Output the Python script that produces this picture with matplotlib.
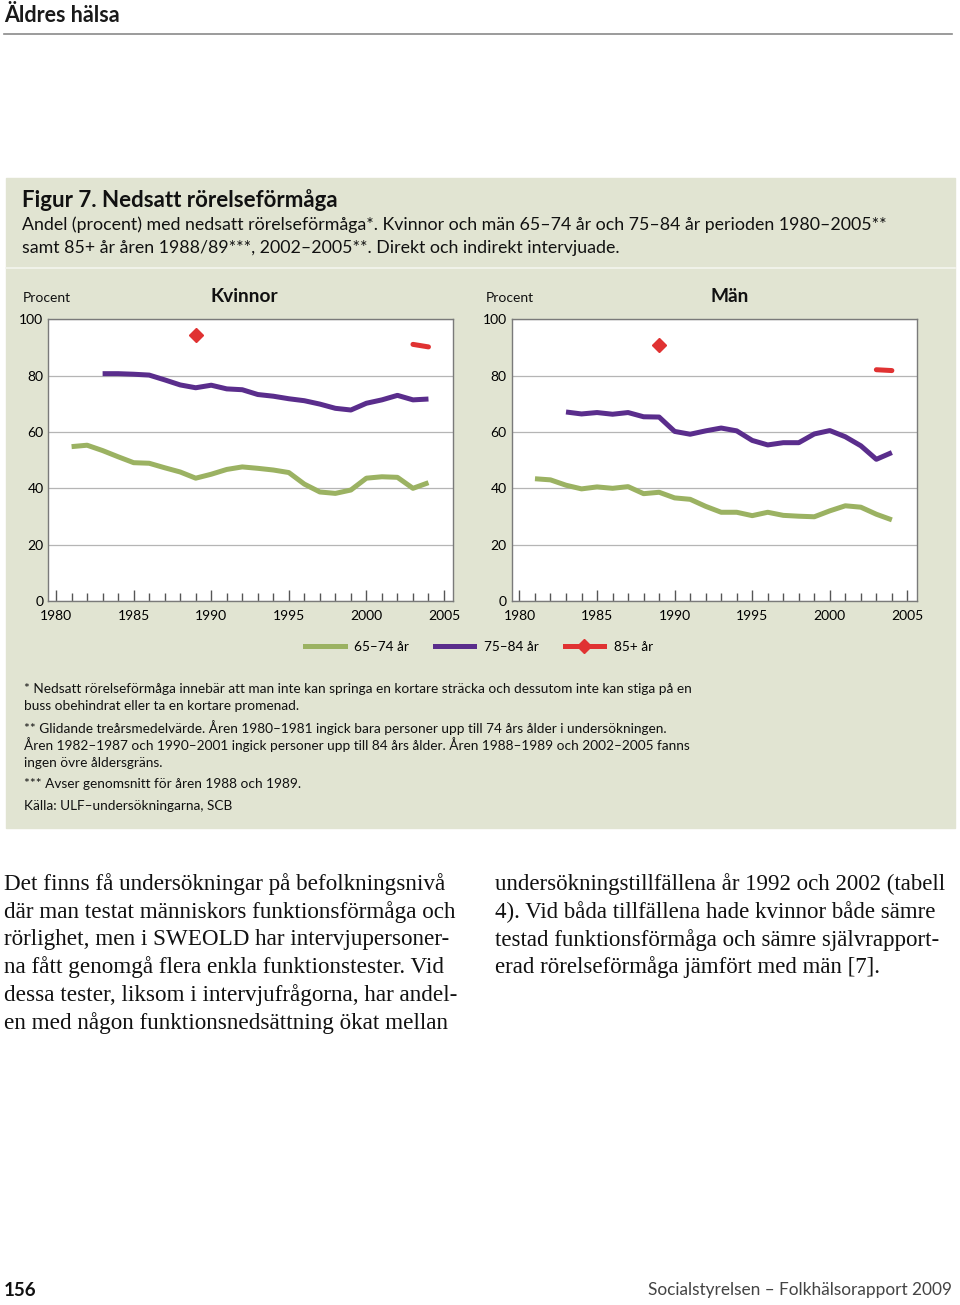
import numpy as np
import matplotlib
matplotlib.use('Agg')
from matplotlib import pyplot as plt
from matplotlib.lines import Line2D
from matplotlib.patches import Rectangle

# data (procent)
years_6574 = list(range(1981, 2005))
years_7584 = list(range(1983, 2005))
kv_6574 = [54.8, 55.3, 53.4, 51.2, 49.1, 48.9, 47.3, 45.8, 43.6, 45.0, 46.7, 47.6,
           47.1, 46.5, 45.6, 41.5, 38.7, 38.2, 39.4, 43.6, 44.1, 43.9, 40.0, 42.0]
kv_7584 = [80.7, 80.7, 80.5, 80.2, 78.5, 76.7, 75.7, 76.6, 75.3, 75.0, 73.3, 72.7,
           71.8, 71.1, 69.9, 68.4, 67.8, 70.2, 71.4, 73.0, 71.4, 71.7]
man_6574 = [43.4, 43.0, 41.1, 39.8, 40.5, 40.0, 40.6, 38.1, 38.6, 36.6, 36.1, 33.6,
            31.5, 31.5, 30.3, 31.5, 30.4, 30.1, 29.9, 32.0, 33.8, 33.3, 30.8, 28.8]
man_7584 = [67.1, 66.4, 66.9, 66.3, 66.9, 65.4, 65.3, 60.2, 59.2, 60.4, 61.4, 60.4,
            57.0, 55.4, 56.2, 56.2, 59.3, 60.5, 58.3, 55.1, 50.3, 52.7]
year_85_a = [1989]
year_85_b = [2003, 2004]
kv_85_a = [94.6]
kv_85_b = [91.1, 90.2]
man_85_a = [90.9]
man_85_b = [82.1, 81.8]

serier = ['65–74 år', '75–84 år', '85+ år']
fargor = ['#9bb262', '#5a2d8c', '#e03232']

W, H = 960, 1305
plt.rcParams['font.family'] = ['Lato', 'DejaVu Sans']
fig = plt.figure(figsize=(W / 100, H / 100), dpi=100)
fig.patch.set_facecolor('white')


def px(x, y):
    return x / W, 1 - y / H


def txt(x, y, s, **kw):
    fx, fy = px(x, y)
    kw.setdefault('va', 'center')
    fig.text(fx, fy, s, **kw)


# sidhuvud
txt(4, 15, 'Äldres hälsa', fontsize=15.5, fontweight='bold', color='#1a1a1a')
fig.add_artist(Line2D([4 / W, 952 / W], [1 - 34 / H, 1 - 34 / H], color='#8a8a8a', lw=1.2))

# figurruta
box_bg = '#e1e4d2'
fig.add_artist(Rectangle(px(6, 828), 949 / W, 650 / H, color=box_bg, zorder=0))
fig.add_artist(Line2D([6 / W, 955 / W], [1 - 268 / H, 1 - 268 / H], color='#f4f5ee', lw=1.2))

txt(22, 200, 'Figur 7. Nedsatt rörelseförmåga', fontsize=16, fontweight='bold', color='#111')
txt(22, 225, 'Andel (procent) med nedsatt rörelseförmåga*. Kvinnor och män 65–74 år och 75–84 år perioden 1980–2005**',
    fontsize=12.8, color='#111')
txt(22, 248, 'samt 85+ år åren 1988/89***, 2002–2005**. Direkt och indirekt intervjuade.',
    fontsize=12.8, color='#111')


def rita(rect, titel, tx, y6574, y7584, y85a, y85b):
    ax = fig.add_axes([rect[0] / W, 1 - rect[3] / H, (rect[2] - rect[0]) / W, (rect[3] - rect[1]) / H])
    ax.set_facecolor('white')
    ax.set_xlim(1979.5, 2005.6)
    ax.set_ylim(0, 100)
    ax.plot(years_6574, y6574, color=fargor[0], lw=3.6, solid_capstyle='butt', solid_joinstyle='round')
    ax.plot(years_7584, y7584, color=fargor[1], lw=3.6, solid_capstyle='butt', solid_joinstyle='round')
    ax.plot(year_85_a, y85a, ls='none', marker='D', ms=7.5, color=fargor[2])
    ax.plot(year_85_b, y85b, color=fargor[2], lw=3.6, solid_capstyle='round')
    ax.set_yticks([0, 20, 40, 60, 80, 100])
    ax.set_yticklabels(['0', '20', '40', '60', '80', '100'])
    ax.grid(axis='y', color='#b5b5b5', lw=0.9)
    ax.set_axisbelow(True)
    ax.tick_params(axis='y', length=0, pad=3.5, labelsize=10)
    ax.set_xticks(range(1980, 2006, 5))
    ax.set_xticks(range(1980, 2006), minor=True)
    ax.tick_params(axis='x', which='major', direction='in', length=8, width=1, color='#555',
                   pad=6.5, labelsize=10)
    ax.tick_params(axis='x', which='minor', direction='in', length=5.5, width=1, color='#555')
    for s in ax.spines.values():
        s.set_color('#7a7a7a')
        s.set_linewidth(1)
    txt(rect[0] - 26, 298, 'Procent', fontsize=10, color='#111')
    txt(tx, 296, titel, fontsize=13.8, fontweight='bold', color='#111')
    return ax


rita((48.3, 319.3, 453.3, 601), 'Kvinnor', 211, kv_6574, kv_7584, kv_85_a, kv_85_b)
rita((511.7, 319.3, 916.7, 601), 'Män', 710, man_6574, man_7584, man_85_a, man_85_b)

# teckenförklaring
handles = [Line2D([], [], color=fargor[0], lw=3.6),
           Line2D([], [], color=fargor[1], lw=3.6),
           Line2D([], [], color=fargor[2], lw=3.6, marker='D', ms=7)]
fig.legend(handles, serier, loc='center', bbox_to_anchor=(px(479, 647)), ncol=3, frameon=False,
           fontsize=9.8, handlelength=2.9, handletextpad=0.7, columnspacing=1.9, numpoints=1)

fot = [
    (689, '* Nedsatt rörelseförmåga innebär att man inte kan springa en kortare sträcka och dessutom inte kan stiga på en'),
    (706, 'buss obehindrat eller ta en kortare promenad.'),
    (728, '** Glidande treårsmedelvärde. Åren 1980–1981 ingick bara personer upp till 74 års ålder i undersökningen.'),
    (745, 'Åren 1982–1987 och 1990–2001 ingick personer upp till 84 års ålder. Åren 1988–1989 och 2002–2005 fanns'),
    (763, 'ingen övre åldersgräns.'),
    (784, '*** Avser genomsnitt för åren 1988 och 1989.'),
    (806, 'Källa: ULF–undersökningarna, SCB'),
]
for y, s in fot:
    txt(24, y, s, fontsize=9.8, color='#111')

# brödtext
vanster = [
    'Det finns få undersökningar på befolkningsnivå',
    'där man testat människors funktionsförmåga och',
    'rörlighet, men i SWEOLD har intervjupersoner-',
    'na fått genomgå flera enkla funktionstester. Vid',
    'dessa tester, liksom i intervjufrågorna, har andel-',
    'en med någon funktionsnedsättning ökat mellan',
]
hoger = [
    'undersökningstillfällena år 1992 och 2002 (tabell',
    '4). Vid båda tillfällena hade kvinnor både sämre',
    'testad funktionsförmåga och sämre självrapport-',
    'erad rörelseförmåga jämfört med män [7].',
]
for i, s in enumerate(vanster):
    txt(4, 884 + i * 27.8, s, fontsize=16.7, family='Liberation Serif', color='#111')
for i, s in enumerate(hoger):
    txt(495, 884 + i * 27.8, s, fontsize=16.5, family='Liberation Serif', color='#111')

# sidfot
txt(4, 1290, '156', fontsize=13.5, fontweight='bold', color='#111')
txt(952, 1290, 'Socialstyrelsen – Folkhälsorapport 2009', fontsize=12.4, fontweight='normal',
    color='#444', ha='right')

fig.savefig('out.png', dpi=100, facecolor='white')
